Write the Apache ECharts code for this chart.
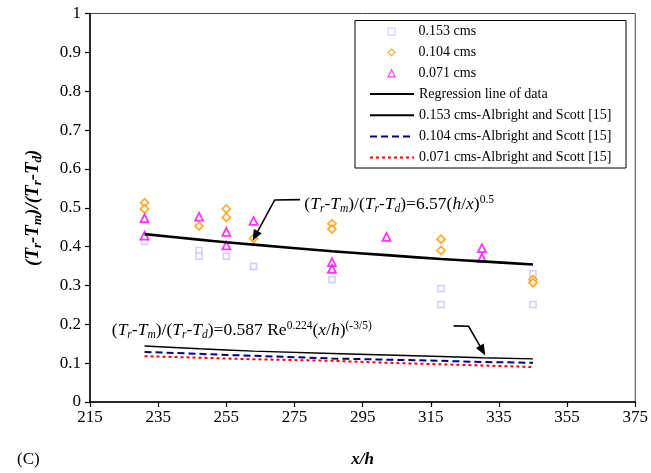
<!doctype html>
<html>
<head>
<meta charset="UTF-8">
<title>Tr-Tm / Tr-Td vs x/h</title>
<script src="https://cdn.jsdelivr.net/npm/echarts@6/dist/echarts.min.js"></script>
<style>
  html, body { margin: 0; padding: 0; background: #fff; }
  #main { width: 651px; height: 473px; }
</style>
</head>
<body>
<div id="main"></div>
<script>
// ---- data ----
var xTicks = [215, 235, 255, 275, 295, 315, 335, 355, 375];
var yTicks = [0, 0.1, 0.2, 0.3, 0.4, 0.5, 0.6, 0.7, 0.8, 0.9, 1];

// measured points [x/h, value]
var pts153 = [[231, 0.413], [247, 0.390], [247, 0.375], [255, 0.375], [263, 0.349],
              [286, 0.315], [318, 0.292], [318, 0.251], [345, 0.330], [345, 0.251]];
var pts104 = [[231, 0.513], [231, 0.497], [247, 0.453], [255, 0.497], [255, 0.475],
              [263, 0.421], [286, 0.459], [286, 0.445], [318, 0.419], [318, 0.390],
              [345, 0.315], [345, 0.307]];
var pts071 = [[231, 0.473], [231, 0.428], [247, 0.477], [255, 0.438], [255, 0.403],
              [263, 0.466], [286, 0.360], [286, 0.343], [302, 0.425], [330, 0.396],
              [330, 0.371]];

// curves on the station positions
var stationX = [231, 247, 255, 263, 286, 302, 318, 330, 345];
var regY     = [0.432, 0.418, 0.411, 0.405, 0.388, 0.378, 0.368, 0.362, 0.354];
var as153Y   = [0.144, 0.137, 0.134, 0.131, 0.125, 0.121, 0.117, 0.114, 0.111];
var as104Y   = [0.129, 0.124, 0.121, 0.119, 0.112, 0.109, 0.106, 0.103, 0.101];
var as071Y   = [0.118, 0.114, 0.112, 0.110, 0.106, 0.101, 0.097, 0.094, 0.090];

var markerNames = ['0.153 cms', '0.104 cms', '0.071 cms'];
var lineNames = ['Regression line of data', '0.153 cms-Albright and Scott [15]',
                 '0.104 cms-Albright and Scott [15]', '0.071 cms-Albright and Scott [15]'];

function pairs(xs, ys) {
  return xs.map(function (x, i) { return [x, ys[i]]; });
}

var FONT = 'Liberation Serif';
var hidden = 'rgba(0,0,0,0)';

var chart = echarts.init(document.getElementById('main'));

var option = {
  animation: false,
  backgroundColor: '#fff',
  grid: {
    left: 90, right: 15, top: 13.5, bottom: 66.5,
    show: true, borderColor: '#444', borderWidth: 1
  },
  legend: [{
    // marker entries: small square icon box, text pushed right to line up with the line entries
    orient: 'vertical', left: 387.5, top: 24.7, padding: 0,
    itemWidth: 7, itemHeight: 7, itemGap: 6.8,
    itemStyle: { borderWidth: 1.2 },
    textStyle: { fontFamily: FONT, fontSize: 14, lineHeight: 14, color: '#000', padding: [0, 0, 0, 18.5] },
    data: markerNames
  }, {
    // line entries
    orient: 'vertical', left: 369, top: 87, padding: 0,
    itemWidth: 44, itemHeight: 14, itemGap: 7.2,
    itemStyle: { color: hidden, borderColor: hidden, borderWidth: 0, opacity: 0 },
    textStyle: { fontFamily: FONT, fontSize: 14, lineHeight: 14, color: '#000' },
    data: lineNames
  }],
  xAxis: {
    type: 'value', min: 215, max: 375, interval: 20,
    name: 'x/h', nameLocation: 'middle', nameGap: 49,
    nameTextStyle: { fontFamily: FONT, fontSize: 17, fontWeight: 'bold', fontStyle: 'italic', color: '#000' },
    axisLine: { lineStyle: { color: '#000', width: 1.5 } },
    axisTick: { length: 5, lineStyle: { color: '#000', width: 1.2 } },
    axisLabel: { fontFamily: FONT, fontSize: 17, color: '#000', margin: 7 },
    splitLine: { show: false }
  },
  yAxis: {
    type: 'value', min: 0, max: 1, interval: 0.1,
    name: '{a|(T}{b|r}{a|-T}{b|m}{a|)/(T}{b|r}{a|-T}{b|d}{a|)}',
    nameLocation: 'middle', nameGap: 46, nameRotate: 90,
    nameTextStyle: {
      rich: {
        a: { fontFamily: FONT, fontSize: 19, fontWeight: 'bold', fontStyle: 'italic', color: '#000' },
        b: { fontFamily: FONT, fontSize: 13, fontWeight: 'bold', fontStyle: 'italic', color: '#000', padding: [9, 0, 0, 0] }
      }
    },
    axisLine: { show: true, lineStyle: { color: '#000', width: 1.5 } },
    axisTick: { show: true, length: 5, lineStyle: { color: '#000', width: 1.2 } },
    axisLabel: {
      fontFamily: FONT, fontSize: 17, color: '#000', margin: 9,
      formatter: function (v) { return String(Math.round(v * 10) / 10); }
    },
    splitLine: { show: false }
  },
  series: [
    {
      name: markerNames[0], type: 'scatter', data: pts153,
      symbol: 'rect', symbolSize: 6,
      itemStyle: { color: '#fff', borderColor: '#c4c4f2', borderWidth: 1.6 }
    },
    {
      name: markerNames[1], type: 'scatter', data: pts104,
      symbol: 'diamond', symbolSize: 8,
      itemStyle: { color: '#fff', borderColor: '#ff9a00', borderWidth: 1.8 }
    },
    {
      name: markerNames[2], type: 'scatter', data: pts071,
      symbol: 'triangle', symbolSize: 8,
      itemStyle: { color: '#fff', borderColor: '#ff00ff', borderWidth: 1.8 }
    },
    {
      name: lineNames[0], type: 'line', data: pairs(stationX, regY),
      symbol: 'none', smooth: 0.2,
      lineStyle: { color: '#000', width: 2.6 }
    },
    {
      name: lineNames[1], type: 'line', data: pairs(stationX, as153Y),
      symbol: 'none',
      lineStyle: { color: '#000', width: 1.4 }
    },
    {
      name: lineNames[2], type: 'line', data: pairs(stationX, as104Y),
      symbol: 'none',
      lineStyle: { color: '#000080', width: 2, type: [7, 4] }
    },
    {
      name: lineNames[3], type: 'line', data: pairs(stationX, as071Y),
      symbol: 'none',
      lineStyle: { color: '#ff0000', width: 2, type: [3, 3] }
    }
  ]
};

chart.setOption(option);

// ---- annotations (anchored in data coordinates) ----
var richAnn = {
  n: { fontFamily: FONT, fontSize: 17.5, color: '#000' },
  i: { fontFamily: FONT, fontSize: 17.5, fontStyle: 'italic', color: '#000' },
  sb: { fontFamily: FONT, fontSize: 11.5, fontStyle: 'italic', color: '#000', padding: [9, 0, 0, 0] },
  sp: { fontFamily: FONT, fontSize: 11.5, color: '#000', padding: [0, 0, 9, 0] }
};
var ann1Text = '{n|(}{i|T}{sb|r}{n|-}{i|T}{sb|m}{n|)/(}{i|T}{sb|r}{n|-}{i|T}{sb|d}{n|)=6.57(}{i|h}{n|/}{i|x}{n|)}{sp|0.5}';
var ann2Text = '{n|(}{i|T}{sb|r}{n|-}{i|T}{sb|m}{n|)/(}{i|T}{sb|r}{n|-}{i|T}{sb|d}{n|)=0.587 Re}{sp|0.224}{n|(}{i|x}{n|/}{i|h}{n|)}{sp|(-3/5)}';
var ann1Anchor = [277.9, 0.508];
var ann2Anchor = [221.4, 0.183];
var ann1Leader = [[276.6, 0.521], [269.2, 0.520], [262.7, 0.415]];
var ann2Leader = [[321.7, 0.196], [326.1, 0.195], [331.0, 0.120]];

function px(p) { return chart.convertToPixel({ gridIndex: 0 }, p); }

function leader(pts) {
  var p = pts.map(px);
  var tip = p[p.length - 1], prev = p[p.length - 2];
  var dx = tip[0] - prev[0], dy = tip[1] - prev[1];
  var len = Math.sqrt(dx * dx + dy * dy);
  dx /= len; dy /= len;
  var L = 11, W = 9;
  var base = [tip[0] - dx * L, tip[1] - dy * L];
  var line = p.slice(0, p.length - 1).concat([base]);
  return [
    { type: 'polyline', shape: { points: line }, style: { stroke: '#000', lineWidth: 1.6, fill: null }, z: 100 },
    { type: 'polygon', shape: { points: [tip,
        [base[0] - dy * W / 2, base[1] + dx * W / 2],
        [base[0] + dy * W / 2, base[1] - dx * W / 2]] },
      style: { fill: '#000' }, z: 100 }
  ];
}

var a1 = px(ann1Anchor), a2 = px(ann2Anchor);
var graphics = [
  { type: 'rect', shape: { x: 355, y: 20.5, width: 271, height: 147.5 },
    style: { fill: null, stroke: '#000', lineWidth: 1 }, z: 90 },
  { type: 'text', x: a1[0], y: a1[1], z: 100,
    style: { text: ann1Text, rich: richAnn, verticalAlign: 'middle', backgroundColor: '#fff' } },
  { type: 'text', x: a2[0], y: a2[1], z: 100,
    style: { text: ann2Text, rich: richAnn, verticalAlign: 'middle' } },
  { type: 'text', left: 17, top: 451, z: 100,
    style: { text: '(C)', fontFamily: FONT, fontSize: 17, fill: '#000' } }
].concat(leader(ann1Leader), leader(ann2Leader));

chart.setOption({ graphic: graphics });
</script>
</body>
</html>
